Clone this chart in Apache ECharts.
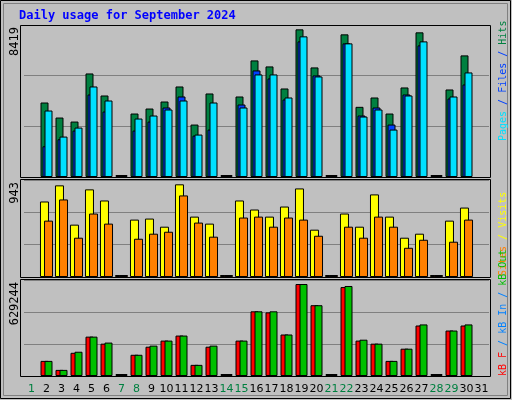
<!DOCTYPE html>
<html>
<head>
<meta charset="utf-8">
<script src="https://cdn.jsdelivr.net/npm/echarts@6/dist/echarts.min.js"></script>
<style>
    html, body { margin: 0; padding: 0; background: #c0c0c0; }
    #chart { width: 512px; height: 400px; }
</style>
</head>
<body>
<div id="chart"></div>
<script>
    // days of September 2024 (31 shown on the axis like the original)
    var days = [];
    for (var d = 1; d <= 31; d++) { days.push(String(d)); }
    var weekendDays = [1, 7, 8, 14, 15, 21, 22, 28, 29];

    // top panel
    var hits  = ['-', 4126, 3293, 3071, 5735, 4515, 0, 3516, 3793, 4181, 5014, 2905, 4626, 0, 4459, 6457, 6124, 4903, 8178, 6069, 0, 7900, 3886, 4404, 3516, 4959, 8012, 0, 4848, 6735, '-'];
    var files = ['-', 1702, 2091, 2572, 4570, 3627, 0, 2572, 3071, 3849, 4459, 2294, 2627, 0, 4015, 5902, 5458, 4293, 7512, 5625, 0, 7401, 3405, 3849, 2905, 4570, 7290, 0, 4348, 5125, '-'];
    var pages = ['-', 3682, 2239, 2738, 5014, 4237, 0, 3238, 3405, 3738, 4237, 2350, 4126, 0, 3849, 5680, 5680, 4404, 7790, 5569, 0, 7401, 3349, 3738, 2627, 4515, 7512, 0, 4459, 5791, '-'];
    var maxHits = 8419;

    // middle panel
    var visits = ['-', 734, 891, 509, 852, 744, 0, 558, 568, 489, 901, 587, 519, 0, 744, 656, 587, 685, 861, 460, 0, 617, 489, 803, 587, 382, 421, 0, 548, 675, '-'];
    var sites  = ['-', 548, 754, 382, 617, 519, 0, 372, 421, 440, 793, 529, 392, 0, 578, 587, 489, 578, 558, 401, 0, 489, 382, 587, 489, 284, 362, 0, 343, 558, '-'];
    var maxVisits = 943;

    // bottom panel (kB)
    var kbF   = ['-', 99000, 40000, 152000, 258000, 212000, 0, 139000, 192000, 232000, 265000, 73000, 192000, 0, 232000, 424000, 417000, 272000, 603000, 464000, 0, 583000, 232000, 212000, 99000, 179000, 331000, 0, 298000, 331000, '-'];
    var kbOut = ['-', 99000, 40000, 159000, 258000, 219000, 0, 139000, 199000, 232000, 265000, 73000, 199000, 0, 232000, 424000, 424000, 272000, 603000, 464000, 0, 590000, 238000, 212000, 99000, 179000, 338000, 0, 298000, 338000, '-'];
    var maxKb = 629244;

    var mono = 'DejaVu Sans Mono';
    var grids = [
        {left: 24, width: 465, top: 25, height: 152},
        {left: 24, width: 465, top: 180, height: 97},
        {left: 24, width: 465, top: 280, height: 96}
    ];

    function xAxis(idx, showLabel) {
        return {
            type: 'category', gridIndex: idx, data: days,
            axisLine: {show: false}, axisTick: {show: false},
            axisLabel: {
                show: showLabel, interval: 0, margin: 8,
                fontFamily: 'DejaVu Sans', fontSize: 11,
                color: function (value) {
                    return weekendDays.indexOf(+value) >= 0 ? '#008040' : '#000';
                }
            }
        };
    }
    function yAxis(idx, max) {
        return {
            type: 'value', gridIndex: idx, min: 0, max: max, interval: max / 3,
            axisLabel: {show: false}, axisLine: {show: false}, axisTick: {show: false},
            splitLine: {lineStyle: {color: '#808080', width: 1}}
        };
    }
    function bars(name, data, idx, color, width, gap) {
        return {
            name: name, type: 'bar', data: data, xAxisIndex: idx, yAxisIndex: idx,
            barWidth: width, barGap: gap, barMinHeight: 2, animation: false,
            itemStyle: {color: color, borderColor: '#000', borderWidth: 1}
        };
    }
    function frame(top, height) {
        return {
            type: 'rect', z: 10, silent: true,
            shape: {x: 20.5, y: top + 0.5, width: 470, height: height},
            style: {fill: 'none', stroke: '#000', lineWidth: 1}
        };
    }
    function sideText(y, rich, text) {
        return {
            type: 'text', x: 503, y: y, rotation: Math.PI / 2,
            style: {text: text, rich: rich, align: 'left', verticalAlign: 'middle',
                font: '10px ' + mono}
        };
    }
    function leftText(y, text) {
        return {
            type: 'text', x: 15, y: y, rotation: Math.PI / 2,
            style: {text: text, align: 'right', verticalAlign: 'middle',
                font: '12px ' + mono, fill: '#000'}
        };
    }

    var myChart = echarts.init(document.getElementById('chart'));
    var option = {
        backgroundColor: '#c0c0c0',
        grid: grids,
        xAxis: [xAxis(0, false), xAxis(1, false), xAxis(2, true)],
        yAxis: [yAxis(0, maxHits), yAxis(1, maxVisits), yAxis(2, maxKb)],
        series: [
            bars('Hits', hits, 0, '#008040', 8, '-75%'),
            bars('Files', files, 0, '#0040ff', 8, '-75%'),
            bars('Pages', pages, 0, '#00e0ff', 8, '-75%'),
            bars('Visits', visits, 1, '#ffff00', 9, '-55%'),
            bars('Sites', sites, 1, '#ff8000', 9, '-55%'),
            bars('kB F', kbF, 2, '#ff0000', 8, '-50%'),
            bars('kB Out', kbOut, 2, '#00c000', 8, '-50%')
        ],
        graphic: [
            {type: 'rect', silent: true, z: -1,
                shape: {x: 0.5, y: 0.5, width: 510, height: 398},
                style: {fill: 'none', stroke: '#000', lineWidth: 1}},
            {type: 'rect', silent: true, z: -1,
                shape: {x: 3.5, y: 3.5, width: 504, height: 392},
                style: {fill: 'none', stroke: '#808080', lineWidth: 1}},
            {type: 'text', x: 19, y: 16,
                style: {text: 'Daily usage for September 2024', fill: '#0000ff',
                    font: 'bold 12px ' + mono, verticalAlign: 'middle'}},
            frame(25, 152), frame(179, 98), frame(279, 97),
            leftText(27, String(maxHits)),
            leftText(182, String(maxVisits)),
            leftText(282, String(maxKb)),
            sideText(141, {p: {fill: '#00e0ff'}, f: {fill: '#0040ff'}, h: {fill: '#008040'}},
                '{p|Pages} {f|/ Files /} {h|Hits}'),
            sideText(276, {s: {fill: '#ff8000'}, v: {fill: '#ffff00'}},
                '{s|Sites} {v|/ Visits}'),
            sideText(376, {r: {fill: '#ff0000'}, i: {fill: '#0080ff'}, o: {fill: '#00c000'}},
                '{r|kB F} {i|/ kB In /} {o|kB Out}')
        ]
    };
    myChart.setOption(option);
</script>
</body>
</html>
